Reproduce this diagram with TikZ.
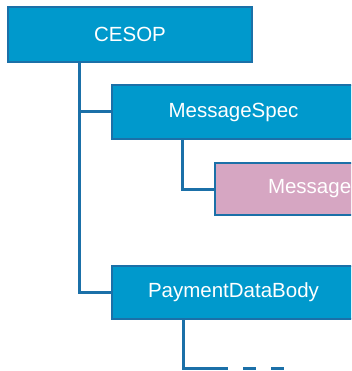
\documentclass[tikz,border=0pt]{standalone}
\usepackage{fontspec}
\setmainfont{Liberation Sans}
\definecolor{boxblue}{HTML}{0099CC}
\definecolor{edgeblue}{HTML}{1B70A8}
\definecolor{boxpink}{HTML}{D6A6C2}
\begin{document}
\begin{tikzpicture}[x=1pt,y=1pt,
  elem/.style={draw=edgeblue,line width=2pt,fill=boxblue,text=white,anchor=north west,
    minimum width=243pt,minimum height=53pt,inner sep=0pt,font=\fontsize{20.5}{24}\selectfont},
  link/.style={draw=edgeblue,line width=3pt}]
  \useasboundingbox (0,0) rectangle (351,-371);
  \clip (0,0) rectangle (351,-371);
  % boxes
  \node[elem,minimum width=244pt,minimum height=55pt] (cesop) at (7,-6) {CESOP};
  \node[elem,minimum height=54pt] (spec) at (111,-84) {MessageSpec};
  \node[elem,fill=boxpink,minimum height=52pt,text width=137pt,align=left,inner xsep=53pt] (msg) at (214,-162) {Message};
  \node[elem] (body) at (111,-265) {PaymentDataBody};
  % tree lines
  \draw[link] ([xshift=72pt]cesop.south west) |- (spec.west);
  \draw[link] ([xshift=72pt]cesop.south west) |- (body.west);
  \draw[link] ([xshift=71pt]spec.south west) |- (msg.west);
  \coordinate (mid) at (228,-368);
  \coordinate (tail) at (284,-368);
  \draw[link] ([xshift=72pt]body.south west) |- (mid);
  \draw[link,dash pattern=on 13pt off 15pt] ([xshift=15pt]mid) -- (tail);
\end{tikzpicture}
\end{document}
